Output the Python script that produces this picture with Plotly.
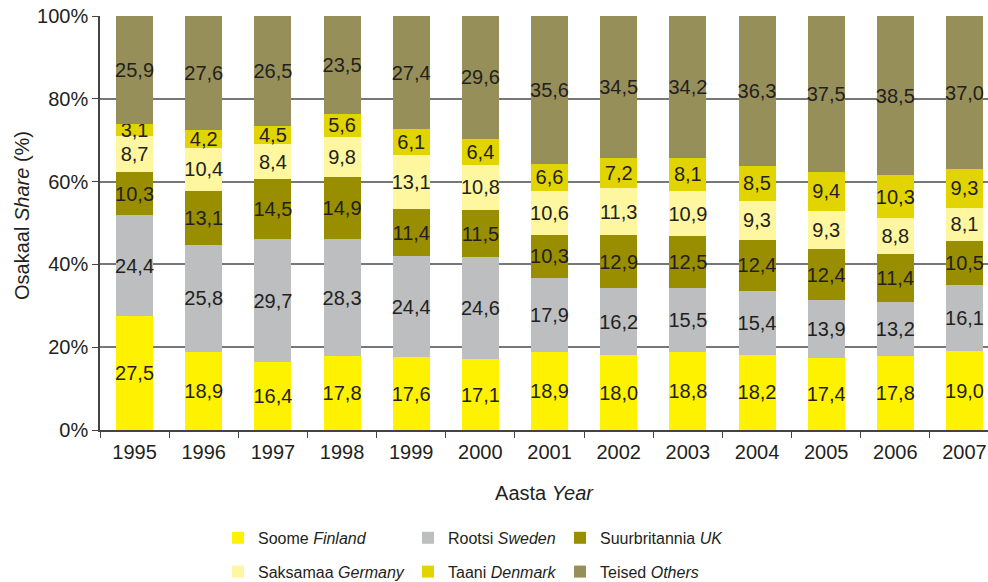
import plotly.graph_objects as go

years = ["1995", "1996", "1997", "1998", "1999", "2000", "2001",
         "2002", "2003", "2004", "2005", "2006", "2007"]

finland = [27.5, 18.9, 16.4, 17.8, 17.6, 17.1, 18.9, 18.0, 18.8, 18.2, 17.4, 17.8, 19.0]
sweden = [24.4, 25.8, 29.7, 28.3, 24.4, 24.6, 17.9, 16.2, 15.5, 15.4, 13.9, 13.2, 16.1]
uk = [10.3, 13.1, 14.5, 14.9, 11.4, 11.5, 10.3, 12.9, 12.5, 12.4, 12.4, 11.4, 10.5]
germany = [8.7, 10.4, 8.4, 9.8, 13.1, 10.8, 10.6, 11.3, 10.9, 9.3, 9.3, 8.8, 8.1]
denmark = [3.1, 4.2, 4.5, 5.6, 6.1, 6.4, 6.6, 7.2, 8.1, 8.5, 9.4, 10.3, 9.3]
others = [25.9, 27.6, 26.5, 23.5, 27.4, 29.6, 35.6, 34.5, 34.2, 36.3, 37.5, 38.5, 37.0]

series_names = ["Soome <i>Finland</i>", "Rootsi <i>Sweden</i>", "Suurbritannia <i>UK</i>",
                "Saksamaa <i>Germany</i>", "Taani <i>Denmark</i>", "Teised <i>Others</i>"]

FONT = "Liberation Sans, Arial, sans-serif"
TXT = "#231f20"

# name, values, colour, which legend column
series = [
    (series_names[0], finland, "#fff200", "legend"),
    (series_names[1], sweden, "#bcbec0", "legend2"),
    (series_names[2], uk, "#998d00", "legend3"),
    (series_names[3], germany, "#fff6a0", "legend"),
    (series_names[4], denmark, "#e2d400", "legend2"),
    (series_names[5], others, "#978f5a", "legend3"),
]

fig = go.Figure()
for i, (name, vals, col, leg) in enumerate(series):
    labels = [f"{v:.1f}".replace(".", ",") for v in vals]
    fig.add_trace(go.Bar(
        x=years, y=vals, name=name,
        marker=dict(color=col, line=dict(width=0)),
        text=labels, textposition="inside", insidetextanchor="middle",
        textangle=0, constraintext="none",
        textfont=dict(family=FONT, size=20, color=TXT),
        legend=leg, legendgroup=f"g{i}",
        hoverinfo="skip",
    ))

legend_common = dict(
    orientation="v", xref="container", yref="container",
    xanchor="left", yanchor="top", y=0.105,
    font=dict(family=FONT, size=16, color=TXT),
    bgcolor="rgba(0,0,0,0)", tracegroupgap=10, traceorder="grouped",
)

fig.update_layout(
    width=988, height=582,
    margin=dict(l=100, r=0, t=16, b=152, autoexpand=False),
    barmode="stack", bargap=0.465,
    plot_bgcolor="white", paper_bgcolor="white",
    font=dict(family=FONT, size=20, color=TXT),
    uniformtext=dict(minsize=20, mode="show"),
    legend=dict(x=218 / 988, **legend_common),
    legend2=dict(x=408 / 988, **legend_common),
    legend3=dict(x=560 / 988, **legend_common),
    xaxis=dict(
        type="category", range=[-0.5, 12.34],
        tickson="boundaries", ticks="outside", ticklen=6, tickcolor="#444",
        showline=True, linecolor="#444", linewidth=1.5,
        tickfont=dict(family=FONT, size=20, color=TXT),
        ticklabelstandoff=3,
        title=dict(text="Aasta <i>Year</i>", font=dict(family=FONT, size=20, color=TXT), standoff=24),
    ),
    yaxis=dict(
        range=[0, 100], dtick=20, ticksuffix="%",
        ticks="outside", ticklen=6, tickcolor="#444",
        showline=True, linecolor="#444", linewidth=1.5,
        showgrid=True, gridcolor="#777777", gridwidth=1.5,
        tickfont=dict(family=FONT, size=20, color=TXT),
    ),
    annotations=[dict(
        text="Osakaal <i>Share</i> (%)", textangle=-90,
        xref="paper", yref="paper", x=-78 / 888, y=0.517,
        xanchor="center", yanchor="middle", showarrow=False,
        font=dict(family=FONT, size=20, color=TXT),
    )],
)

fig.write_html("out.html", config={"displayModeBar": False},
               post_script="document.body.style.margin='0';")
